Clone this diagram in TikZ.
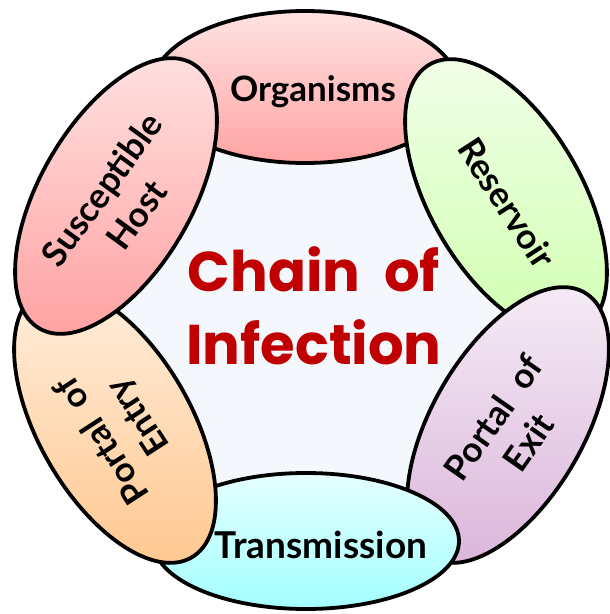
\documentclass[tikz,border=0pt]{standalone}
\usepackage{fontspec}
\setmainfont{Lato}
\newfontfamily\ctrfont{Poppins}
\usetikzlibrary{shapes.geometric}
\definecolor{titlered}{HTML}{C00000}
\definecolor{bgring}{HTML}{F4F7FC}
\begin{document}
\begin{tikzpicture}[x=1pt,y=-1pt,
  ring/.style={ellipse, draw=black, line width=3.8pt, minimum width=306pt,
    minimum height=152pt, inner sep=0pt},
  lab/.style={align=center, inner sep=0pt,
    font=\fontsize{35}{43}\selectfont\bfseries},
  title/.style={font=\ctrfont\bfseries\fontsize{56}{73}\selectfont,
    text=titlered, align=center}
]
\useasboundingbox (0,0) rectangle (610,614);
\fill[bgring] (310,310) circle (228);
\node[ring, top color=red!11, bottom color=red!36!white, rotate=0] (org) at (305,87) {};
\node[ring, top color=green!60!yellow!8, bottom color=green!60!yellow!32!white, rotate=-60] (res) at (506,197) {};
\node[ring, top color=violet!7, bottom color=violet!28!white, rotate=60] (exit) at (508,425) {};
\node[ring, minimum height=136pt, top color=cyan!10, bottom color=cyan!36!white, rotate=0] (tra) at (306,541) {};
\node[ring, top color=orange!12, bottom color=orange!45!white, rotate=120] (ent) at (115,425) {};
\node[ring, top color=red!11, bottom color=red!36!white, rotate=60] (sus) at (116,196) {};
\node[lab] (orgT) at (313,92) {Organisms};
\node[lab, rotate=-57] (resT) at (507,203) {Reservoir};
\node[lab, rotate=55] (exitT) at (511,430) {Portal\ \ of\\Exit};
\node[lab, font=\fontsize{37}{43}\selectfont\bfseries] (traT) at (321,545) {Transmission};
\node[lab, rotate=123] (entT) at (121,428) {Portal\ \ of\\Entry};
\node[lab, rotate=54] (susT) at (119,202) {Susceptible\\Host};
\node[title] (ttl) at (314,306) {Chain\ \ of\\Infection};
\end{tikzpicture}
\end{document}
